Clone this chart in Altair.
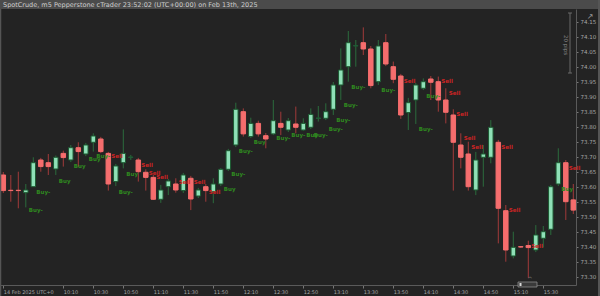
import altair as alt
import pandas as pd

# ---- data (5-minute candles) ----
opens = [73.640, 73.589, 73.589, 73.581, 73.601, 73.690, 73.681, 73.660, 73.712, 73.690,
         73.731, 73.710, 73.749, 73.760, 73.712, 73.618, 73.681, 73.699, 73.690, 73.649,
         73.632, 73.559, 73.601, 73.610, 73.588, 73.629, 73.570, 73.601, 73.584, 73.610,
         73.659, 73.740, 73.851, 73.768, 73.812, 73.771, 73.777, 73.812, 73.790, 73.810,
         73.790, 73.799, 73.829, 73.829, 73.859, 73.940, 74.001, 74.070, 74.081, 74.060,
         73.951, 74.081, 74.001, 73.970, 73.848, 73.890, 73.929, 73.960, 73.951, 73.890,
         73.840, 73.740, 73.710, 73.590, 73.699, 73.699, 73.749, 73.521, 73.370, 73.401,
         73.405, 73.390, 73.429, 73.459, 73.610, 73.681, 73.557]
closes = [73.588, 73.588, 73.588, 73.590, 73.681, 73.668, 73.668, 73.699, 73.698, 73.731,
          73.718, 73.740, 73.770, 73.718, 73.610, 73.670, 73.712, 73.700, 73.651, 73.632,
          73.559, 73.590, 73.620, 73.590, 73.640, 73.560, 73.590, 73.588, 73.610, 73.659,
          73.721, 73.859, 73.777, 73.812, 73.777, 73.760, 73.821, 73.799, 73.821, 73.799,
          73.812, 73.842, 73.830, 73.851, 73.940, 73.990, 74.081, 74.071, 74.060, 73.938,
          74.070, 74.010, 73.959, 73.840, 73.881, 73.940, 73.951, 73.949, 73.890, 73.849,
          73.749, 73.699, 73.601, 73.690, 73.710, 73.799, 73.529, 73.390, 73.399, 73.400,
          73.398, 73.440, 73.451, 73.601, 73.681, 73.551, 73.523]
highs = [73.650, 73.640, 73.651, 73.610, 73.699, 73.697, 73.710, 73.705, 73.721, 73.740,
         73.749, 73.747, 73.779, 73.767, 73.717, 73.677, 73.792, 73.707, 73.697, 73.659,
         73.640, 73.607, 73.627, 73.629, 73.647, 73.637, 73.597, 73.610, 73.629, 73.663,
         73.727, 73.881, 73.862, 73.831, 73.821, 73.780, 73.890, 73.851, 73.830, 73.868,
         73.829, 73.862, 73.870, 73.879, 73.950, 74.062, 74.120, 74.090, 74.132, 74.070,
         74.090, 74.110, 74.018, 73.977, 73.897, 73.947, 73.962, 73.970, 73.968, 73.929,
         73.859, 73.779, 73.751, 73.717, 73.740, 73.823, 73.757, 73.540, 73.451, 73.403,
         73.421, 73.473, 73.470, 73.607, 73.729, 73.690, 73.610]
lows = [73.580, 73.551, 73.529, 73.532, 73.600, 73.651, 73.640, 73.640, 73.668, 73.683,
        73.668, 73.703, 73.718, 73.713, 73.588, 73.603, 73.662, 73.690, 73.618, 73.588,
        73.557, 73.547, 73.573, 73.581, 73.580, 73.523, 73.563, 73.551, 73.546, 73.603,
        73.653, 73.733, 73.768, 73.763, 73.768, 73.729, 73.773, 73.773, 73.783, 73.779,
        73.787, 73.793, 73.818, 73.823, 73.840, 73.890, 73.951, 74.001, 74.040, 73.929,
        73.940, 74.003, 73.946, 73.827, 73.790, 73.810, 73.923, 73.890, 73.851, 73.812,
        73.588, 73.662, 73.588, 73.573, 73.601, 73.679, 73.412, 73.351, 73.362, 73.397,
        73.297, 73.383, 73.398, 73.440, 73.603, 73.490, 73.510]

buy_idx = [3, 4, 7, 9, 11, 12, 15, 16, 29, 30, 31, 33, 36, 38, 40, 41, 43, 44, 45, 46, 50, 55, 56, 74]
buy_price = [73.523, 73.584, 73.621, 73.671, 73.692, 73.703, 73.584, 73.642, 73.592, 73.642,
             73.721, 73.751, 73.762, 73.773, 73.773, 73.773, 73.793, 73.823, 73.873, 73.932,
             73.923, 73.793, 73.903, 73.592]
buy_text = ["Buy-", "Buy-", "Buy", "Buy", "Buy", "Buy-", "Buy-", "Buy", "Buy", "Buy-",
            "Buy-", "Buy", "Buy-", "Buy-", "Buy", "Buy-", "Buy-", "Buy-", "Buy-", "Buy-",
            "Buy-", "Buy-", "Buy-", "Buy"]
sell_idx = [14, 18, 19, 20, 23, 25, 27, 53, 58, 59, 60, 61, 62, 66, 67, 70, 75]
sell_price = [73.703, 73.673, 73.646, 73.634, 73.616, 73.616, 73.584, 73.953, 73.953, 73.912,
              73.842, 73.764, 73.734, 73.734, 73.523, 73.403, 73.662]

x_tick_vals = [0, 8, 12, 16, 20, 24, 28, 32, 36, 40, 44, 48, 52, 56, 60, 64, 68, 72]
x_tick_labels = ["14 Feb 2025 UTC+0", "10:10", "10:30", "10:50", "11:10", "11:30", "11:50",
                 "12:10", "12:30", "12:50", "13:10", "13:30", "13:50", "14:10", "14:30",
                 "14:50", "15:10", "15:30"]
y_tick_vals = [73.30, 73.35, 73.40, 73.45, 73.50, 73.55, 73.60, 73.65, 73.70, 73.75,
               73.80, 73.85, 73.90, 73.95, 74.00, 74.05, 74.10, 74.15]

title_text = "SpotCrude, m5 Pepperstone cTrader 23:52:02 (UTC+00:00) on Feb 13th, 2025"

# ---- tables ----
n = len(opens)
df = pd.DataFrame({"i": list(range(n)), "open": opens, "close": closes, "high": highs, "low": lows})
df["dir"] = ["up" if c >= o else "down" for o, c in zip(opens, closes)]
df["x1"] = df["i"] - 0.3
df["x2"] = df["i"] + 0.3
buys = pd.DataFrame({"i": buy_idx, "price": buy_price, "t": buy_text})
sells = pd.DataFrame({"i": sell_idx, "price": sell_price, "t": ["Sell"] * len(sell_idx)})

label_expr = "''"
for v, l in reversed(list(zip(x_tick_vals, x_tick_labels))):
    label_expr = f"datum.value == {v} ? '{l}' : ({label_expr})"

xs = alt.Scale(domain=[-0.44, 76.36], nice=False, zero=False)
ys = alt.Scale(domain=[73.2733, 74.1933], nice=False, zero=False)
xaxis = alt.Axis(values=x_tick_vals, labelExpr=label_expr, title=None, grid=False,
                 labelAlign="left", labelBaseline="top", labelPadding=1, labelFontSize=5,
                 labelColor="#a6a6a6", tickColor="#777777", tickSize=3, domainColor="#5a5a5a",
                 labelFont="DejaVu Sans", labelOverlap=False, labelFlush=False)
yaxis = alt.Axis(values=y_tick_vals, format=".2f", orient="right", title=None, grid=False,
                 labelFontSize=5.5, labelColor="#a6a6a6", tickColor="#777777", tickSize=2,
                 domainColor="#5a5a5a", labelPadding=2, labelFont="DejaVu Sans",
                 labelOverlap=False, labelFlush=False)

one = pd.DataFrame({"a": [0]})

header = alt.Chart(one).mark_rect(color="#4b4b4b").encode(
    x=alt.value(0), x2=alt.value(600), y=alt.value(-9), y2=alt.value(0))
title = alt.Chart(one).mark_text(align="left", baseline="middle", fontSize=6.5,
                                 font="DejaVu Sans", color="#cfcfcf").encode(
    x=alt.value(3), y=alt.value(-4.5), text=alt.value(title_text))

wicks = alt.Chart(df).mark_rule(strokeWidth=1).encode(
    x=alt.X("i:Q", scale=xs, axis=xaxis),
    y=alt.Y("low:Q", scale=ys, axis=yaxis),
    y2="high:Q",
    color=alt.Color("dir:N", scale=alt.Scale(domain=["up", "down"], range=["#2b6b3c", "#a23a3a"]), legend=None))

bodies = alt.Chart(df).mark_rect(strokeWidth=1).encode(
    x=alt.X("x1:Q", scale=xs, axis=xaxis), x2="x2:Q",
    y=alt.Y("open:Q", scale=ys, axis=yaxis), y2="close:Q",
    fill=alt.Fill("dir:N", scale=alt.Scale(domain=["up", "down"], range=["#8fe0b7", "#f56d6d"]), legend=None),
    stroke=alt.Stroke("dir:N", scale=alt.Scale(domain=["up", "down"], range=["#1d5a32", "#f56d6d"]), legend=None))

buy_txt = alt.Chart(buys).mark_text(align="left", baseline="middle", dx=3, fontSize=5.5,
                                    fontWeight="bold", font="DejaVu Sans", color="#2f8a1f").encode(
    x=alt.X("i:Q", scale=xs, axis=xaxis), y=alt.Y("price:Q", scale=ys, axis=yaxis), text="t:N")
sell_txt = alt.Chart(sells).mark_text(align="left", baseline="middle", dx=3, fontSize=5.5,
                                      fontWeight="bold", font="DejaVu Sans", color="#d02424").encode(
    x=alt.X("i:Q", scale=xs, axis=xaxis), y=alt.Y("price:Q", scale=ys, axis=yaxis), text="t:N")

# crosshair handle on the time axis
cur_box = alt.Chart(one).mark_rect(fill="#3a3a3a", stroke="#8a8a8a", strokeWidth=0.8).encode(
    x=alt.value(518), x2=alt.value(537), y=alt.value(273), y2=alt.value(278))
cur_grip = alt.Chart(one).mark_rect(fill="#d8d8d8").encode(
    x=alt.value(519.5), x2=alt.value(521.5), y=alt.value(274), y2=alt.value(277))
cur_mark = alt.Chart(one).mark_text(fontSize=6, font="DejaVu Sans", color="#9a9a9a",
                                    baseline="middle").encode(
    x=alt.value(530), y=alt.value(270), text=alt.value("^"))

ruler = alt.Chart(one).mark_rule(color="#6a6a6a", strokeWidth=1).encode(
    x=alt.value(570), y=alt.value(4), y2=alt.value(64))
ruler_top = alt.Chart(one).mark_rule(color="#6a6a6a", strokeWidth=1).encode(
    x=alt.value(568), x2=alt.value(572), y=alt.value(4))
ruler_bot = alt.Chart(one).mark_rule(color="#6a6a6a", strokeWidth=1).encode(
    x=alt.value(568), x2=alt.value(572), y=alt.value(64))
ruler_txt = alt.Chart(one).mark_text(angle=90, fontSize=5.5, font="DejaVu Sans", color="#8a8a8a",
                                     baseline="middle", align="center").encode(
    x=alt.value(566), y=alt.value(36), text=alt.value("20 pips"))

icon = alt.Chart(one).mark_text(fontSize=8, font="DejaVu Sans", color="#9a9a9a").encode(
    x=alt.value(590), y=alt.value(8), text=alt.value("\u2197"))

left_border = alt.Chart(one).mark_rule(color="#555555", strokeWidth=1.5).encode(
    x=alt.value(0.5), y=alt.value(0), y2=alt.value(287))
right_border = alt.Chart(one).mark_rule(color="#555555", strokeWidth=2).encode(
    x=alt.value(599), y=alt.value(-9), y2=alt.value(287))

chart = alt.layer(
    header, title, wicks, bodies, buy_txt, sell_txt, cur_mark, cur_box, cur_grip,
    ruler, ruler_top, ruler_bot, ruler_txt, icon, left_border, right_border
).properties(
    width=576, height=276,
    autosize=alt.AutoSizeParams(type="none"),
    padding={"left": 0, "top": 9, "right": 24, "bottom": 11},
    background="#232323",
).configure_view(stroke=None)

chart.save("out.html", embed_options={"renderer": "svg", "actions": False})
